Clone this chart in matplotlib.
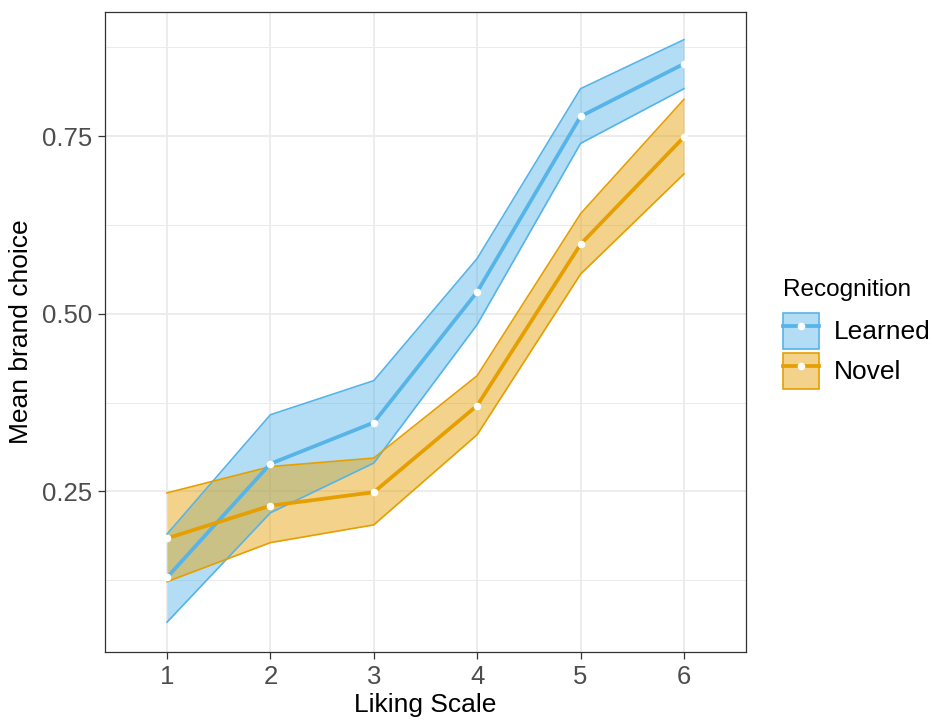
import numpy as np
import matplotlib.pyplot as plt
from matplotlib.patches import Patch
from matplotlib.lines import Line2D

plt.rcParams['font.family'] = ['Liberation Sans', 'DejaVu Sans']

# Dados
liking = [1, 2, 3, 4, 5, 6]

learned_mean = [0.129, 0.289, 0.347, 0.531, 0.778, 0.852]
learned_low = [0.066, 0.220, 0.290, 0.485, 0.740, 0.817]
learned_high = [0.190, 0.358, 0.406, 0.578, 0.817, 0.886]

novel_mean = [0.184, 0.230, 0.249, 0.371, 0.598, 0.749]
novel_low = [0.123, 0.178, 0.203, 0.330, 0.556, 0.697]
novel_high = [0.248, 0.285, 0.297, 0.413, 0.641, 0.802]

groups = ["Learned", "Novel"]
colors = {"Learned": "#56B4E9", "Novel": "#E69F00"}

fig = plt.figure(figsize=(9.4, 7.21), dpi=100)
ax = fig.add_axes([0.1117, 0.0957, 0.6819, 0.8877])

series = {
    "Learned": (learned_mean, learned_low, learned_high),
    "Novel": (novel_mean, novel_low, novel_high),
}

handles = []
for g in groups:
    m, lo, hi = series[g]
    c = colors[g]
    ax.fill_between(liking, lo, hi, color=c, alpha=0.45, linewidth=0, zorder=2)
    ax.plot(liking, lo, color=c, lw=1.2, zorder=3)
    ax.plot(liking, hi, color=c, lw=1.2, zorder=3)
    ax.plot(liking, m, color=c, lw=2.7, zorder=4, solid_capstyle="butt")
    ax.plot(liking, m, "o", color="white", ms=5.5, mec="none", zorder=5)
    handles.append((Patch(facecolor=c, alpha=0.45, edgecolor="none"),
                    Patch(facecolor="none", edgecolor=c, lw=1.2),
                    Line2D([], [], color=c, lw=2.7),
                    Line2D([], [], ls="none", marker="o", color="white", ms=5.5, mec="none")))

ax.set_xlim(0.4, 6.6)
ax.set_ylim(0.024, 0.925)
ax.set_xticks(liking)
ax.set_yticks([0.25, 0.50, 0.75])
ax.set_yticklabels(["0.25", "0.50", "0.75"])
ax.set_yticks([0.125, 0.375, 0.625, 0.875], minor=True)

ax.grid(True, which="major", color="#EBEBEB", lw=1.3, zorder=0)
ax.grid(True, which="minor", axis="y", color="#EBEBEB", lw=0.7, zorder=0)
ax.set_axisbelow(True)

for s in ax.spines.values():
    s.set_color("#333333")
    s.set_linewidth(0.9)

ax.tick_params(which="major", length=5, width=0.9, color="#333333",
               labelsize=18.5, labelcolor="#4D4D4D", pad=4)
ax.tick_params(which="minor", length=0)

ax.set_xlabel("Liking Scale", fontsize=19, labelpad=3)
ax.set_ylabel("Mean brand choice", fontsize=19, labelpad=7)

leg = fig.legend(handles, groups, title="Recognition",
                 loc="upper left", bbox_to_anchor=(0.833, 0.6135),
                 frameon=False, fontsize=19, title_fontsize=17.5,
                 handlelength=1.36, handleheight=1.72, handletextpad=0.57,
                 labelspacing=0.15, borderaxespad=0, borderpad=0)
leg._legend_box.align = "left"
# mais espaço entre o título e as chaves, como no ggplot
leg._legend_box.sep = 8.6

fig.savefig("out.png", dpi=100)
